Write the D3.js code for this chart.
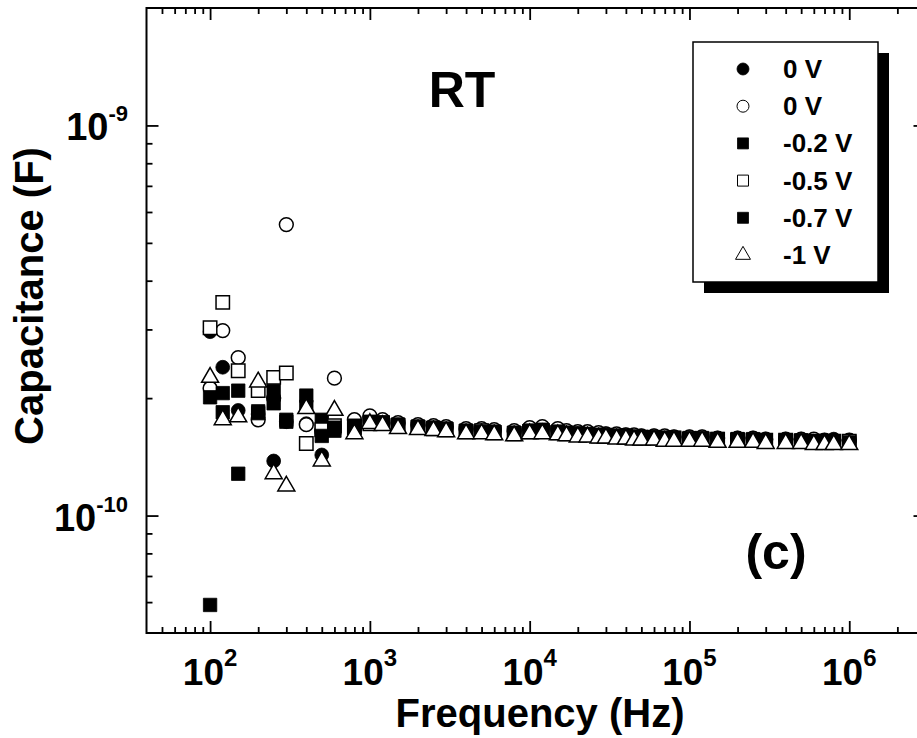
<!DOCTYPE html>
<html><head><meta charset="utf-8">
<script src="https://cdn.jsdelivr.net/npm/d3@7"></script>
<style>
html,body{margin:0;padding:0;background:#fff;}
svg{display:block;font-family:"Liberation Sans",Arial,Helvetica,sans-serif;font-weight:bold;}
</style>
</head><body>
<svg id="chart" width="917" height="738"></svg>
<script>
// ---------------- DATA ----------------
// Frequency points (Hz)
const frequencies = [100,120,150,200,250,300,400,500,600,800,
  1000,1200,1500,2000,2500,3000,4000,5000,6000,8000,
  10000,12000,15000,17000,20000,23000,27000,30000,35000,40000,45000,50000,60000,70000,80000,
  100000,120000,150000,200000,250000,300000,400000,500000,600000,700000,800000,1000000];

// Capacitance values in pF (1 pF = 1e-12 F)
const cap0VFilled = [296,240,186,182,138,174,172,143,168,172,
  175,174,172,170,169,168,166,166,165,164,166,167,165,164,163,163,162,162,161,161,160,160,160,159,159,159,159,158,158,158,157,157,157,156,156,157,156];
const cap0VOpen = [212,298,254,176,200,557,171,165,225,176,
  180,176,173,171,170,169,167,167,166,165,168,169,167,165,164,164,163,162,162,161,161,160,160,160,159,159,159,158,158,158,157,157,157,157,156,156,156];
const capM02V = [59,206,128,183,209,174,203,176,165,170,
  173,173,171,169,168,167,165,165,164,163,165,166,164,163,162,162,161,161,160,160,159,159,159,158,158,158,158,157,157,157,156,156,156,155,155,155,155];
const capM05V = [303,352,235,209,226,232,153,166,170,168,
  172,173,170,168,167,166,164,165,163,162,164,165,163,162,162,161,160,160,160,159,159,158,158,158,158,157,157,157,156,156,156,156,155,155,155,155,155];
const capM07V = [201,184,209,185,194,176,190,160,168,168,
  174,173,171,169,168,167,165,164,164,163,165,165,164,163,162,161,161,160,160,160,159,159,158,158,158,157,157,157,157,156,156,156,155,155,155,155,154];
const capM1V = [226,176,179,220,128,119,188,138,186,162,
  172,170,167,166,165,164,162,162,161,160,162,162,161,160,159,159,158,158,157,157,156,156,156,155,155,155,155,154,154,154,153,153,153,152,152,152,152];

const seriesLabels = ["0 V","0 V","-0.2 V","-0.5 V","-0.7 V","-1 V"];
const seriesShapes = ["circle","circle","square","square","square","triangle"];
const seriesFilled = [true,false,true,false,true,false];
const seriesValues = [cap0VFilled,cap0VOpen,capM02V,capM05V,capM07V,capM1V];

const xTickExponents = [2,3,4,5,6];
const yTickExponents = [-10,-9];
const xTitle = "Frequency (Hz)";
const yTitle = "Capacitance (F)";
const annotationTop = "RT";
const annotationPanel = "(c)";

// ---------------- LAYOUT ----------------
const svg = d3.select("#chart");
const L = 146.5, R = 925.5, T = 8, B = 633;
const x = d3.scaleLog().domain([40, 3e6]).range([L, R]);
const y = d3.scaleLog().domain([5e-11, 2e-9]).range([B, T]);

const isMajor = v => Math.abs(Math.log10(v) - Math.round(Math.log10(v))) < 1e-9;

function styleAxis(g, sign, vertical) {
  g.select(".domain").remove();
  g.selectAll(".tick line")
    .attr("stroke", "#000").attr("stroke-width", 1.8)
    .each(function(d) {
      const len = isMajor(d) ? 12 : 6;
      if (vertical) d3.select(this).attr("x2", sign * len);
      else d3.select(this).attr("y2", sign * len);
    });
  g.selectAll(".tick text").remove();
}
const xt = x.ticks().filter(v => v > 40 && v < 3e6);
const yt = y.ticks().filter(v => v > 5e-11 && v < 2e-9);

svg.append("g").attr("transform", `translate(0,${B})`)
  .call(d3.axisBottom(x).tickValues(xt).tickFormat(""))
  .call(g => styleAxis(g, -1, false));
svg.append("g").attr("transform", `translate(0,${T})`)
  .call(d3.axisTop(x).tickValues(xt).tickFormat(""))
  .call(g => styleAxis(g, 1, false));
svg.append("g").attr("transform", `translate(${L},0)`)
  .call(d3.axisLeft(y).tickValues(yt).tickFormat(""))
  .call(g => styleAxis(g, 1, true));
svg.append("g").attr("transform", `translate(${R},0)`)
  .call(d3.axisRight(y).tickValues(yt).tickFormat(""))
  .call(g => styleAxis(g, -1, true));

// frame
svg.append("rect").attr("x", L).attr("y", T).attr("width", R - L).attr("height", B - T)
  .attr("fill", "none").attr("stroke", "#000").attr("stroke-width", 2);

// x tick labels
xTickExponents.forEach(e => {
  const t = svg.append("text").attr("x", x(Math.pow(10, e))).attr("y", 685)
    .attr("text-anchor", "middle").attr("font-size", 37);
  t.append("tspan").text("10");
  t.append("tspan").attr("font-size", 24).attr("dy", -19).text(e);
});
// y tick labels
yTickExponents.forEach(e => {
  const t = svg.append("text").attr("x", 128).attr("y", y(Math.pow(10, e)) + 15)
    .attr("text-anchor", "end").attr("font-size", 38);
  t.append("tspan").text("10");
  t.append("tspan").attr("font-size", 22).attr("dy", -19).text(e);
});

// titles
svg.append("text").attr("x", 540).attr("y", 727).attr("text-anchor", "middle")
  .attr("font-size", 40).text(xTitle);
svg.append("text").attr("transform", "translate(43,296) rotate(-90)")
  .attr("text-anchor", "middle").attr("font-size", 40).text(yTitle);

// annotations
svg.append("text").attr("x", 462).attr("y", 107).attr("text-anchor", "middle")
  .attr("font-size", 50).text(annotationTop);
svg.append("text").attr("x", 776).attr("y", 569).attr("text-anchor", "middle")
  .attr("font-size", 50).text(annotationPanel);

// symbols
const symType = {circle: d3.symbolCircle, square: d3.symbolSquare, triangle: d3.symbolTriangle};
const plotSize = {circle: 150, square: 180, triangle: 125};
const legSize = {circle: 113, square: 121, triangle: 97};

const plot = svg.append("g");
seriesValues.forEach((vals, si) => {
  const sym = d3.symbol().type(symType[seriesShapes[si]]).size(plotSize[seriesShapes[si]]);
  plot.append("g").selectAll("path")
    .data(frequencies.map((f, i) => ({f, c: vals[i] * 1e-12})))
    .join("path")
    .attr("d", sym)
    .attr("transform", d => `translate(${x(d.f)},${y(d.c)})`)
    .attr("fill", seriesFilled[si] ? "#000" : "#fff")
    .attr("stroke", "#000")
    .attr("stroke-width", seriesFilled[si] ? 0.8 : 1.5);
});

// legend
const lg = svg.append("g");
lg.append("rect").attr("x", 704).attr("y", 53).attr("width", 185).attr("height", 240).attr("fill", "#000");
lg.append("rect").attr("x", 693).attr("y", 42).attr("width", 185).attr("height", 240)
  .attr("fill", "#fff").attr("stroke", "#000").attr("stroke-width", 1.5);
const rowY = d3.scaleLinear().domain([0, 5]).range([69, 255]);
seriesLabels.forEach((lab, si) => {
  const sym = d3.symbol().type(symType[seriesShapes[si]]).size(legSize[seriesShapes[si]]);
  lg.append("path").attr("d", sym).attr("transform", `translate(743,${rowY(si)})`)
    .attr("fill", seriesFilled[si] ? "#000" : "#fff").attr("stroke", "#000")
    .attr("stroke-width", seriesFilled[si] ? 0.8 : 1);
  lg.append("text").attr("x", 783).attr("y", rowY(si) + 9).attr("font-size", 26).text(lab);
});
</script>
</body></html>
